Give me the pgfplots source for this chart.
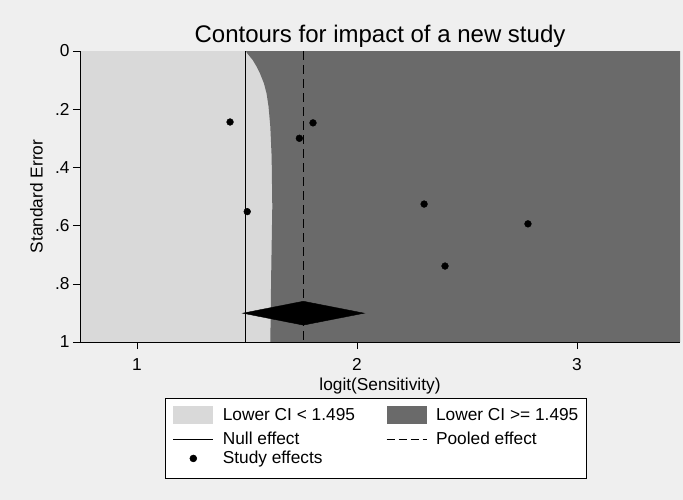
\documentclass[border=0pt]{standalone}
\usepackage{pgfplots}
\pgfplotsset{compat=1.18}
\usepackage{fontspec}
\setmainfont{Liberation Sans}
\definecolor{bg}{RGB}{239,239,239}
\definecolor{lightc}{RGB}{217,217,217}
\definecolor{darkc}{RGB}{106,106,106}
\begin{document}
\begin{tikzpicture}[x=1pt,y=1pt]
\fill[bg] (-80,-158) rectangle (603,342);
\begin{axis}[
  at={(0,0)}, anchor=south west,
  scale only axis, width=600pt, height=291pt,
  xmin=0.741, xmax=3.468, ymin=0, ymax=1, y dir=reverse,
  axis on top,
  axis x line*=bottom, axis y line*=left,
  axis line style={-, black, line width=0.9pt},
  xtick={1,2,3}, xticklabels={1,2,3},
  ytick={0,0.2,0.4,0.6,0.8,1}, yticklabels={0,.2,.4,.6,.8,1},
  tick align=outside, major tick length=7pt,
  tick style={black, line width=0.6pt},
  /pgf/number format/assume math mode=true,
  ticklabel style={font=\fontsize{17.3}{20}\selectfont},
  xticklabel style={yshift=-6pt},
  xlabel={logit(Sensitivity)},
  ylabel={Standard Error},
  every axis x label/.style={at={(axis description cs:0.5,-0.165)}, anchor=base, font=\fontsize{17.3}{20}\selectfont},
  every axis y label/.style={at={(axis description cs:-0.0622,0.5)}, rotate=90, anchor=base, font=\fontsize{17.3}{20}\selectfont},
  title={Contours for impact of a new study},
  every axis title/.style={at={(axis description cs:0.5,1)}, anchor=base, yshift=9pt, font=\fontsize{24}{28}\selectfont},
  legend columns=2,
  legend cell align=left,
  legend style={at={(axis description cs:0.1417,-0.1924)}, anchor=north west,
    draw=black, line width=0.6pt, fill=white,
    font=\fontsize{17.3}{20}\selectfont, inner sep=7.5pt, row sep=5pt,
    nodes={inner sep=0pt},
    /tikz/every odd column/.style={column sep=9pt},
    /tikz/every even column/.style={column sep=31pt}},
]
\addplot[fill=lightc, draw=none,
  legend image code/.code={\fill[lightc] (0pt,-9.3pt) rectangle (40pt,9.3pt); \path (0pt,-12.3pt);}]
  coordinates {(0.741,0) (3.468,0) (3.468,1) (0.741,1)} -- cycle;
\addlegendentry{Lower CI < 1.495}
\addplot[fill=darkc, draw=none,
  legend image code/.code={\fill[darkc] (0pt,-9.3pt) rectangle (40pt,9.3pt); \path (0pt,-12.3pt);}]
  coordinates {(1.495,0) (1.501,0.008) (1.526,0.031) (1.544,0.054) (1.559,0.077)
   (1.577,0.111) (1.589,0.146) (1.598,0.191) (1.606,0.26) (1.612,0.363)
   (1.615,0.535) (1.610,0.764) (1.606,1) (3.468,1) (3.468,0)} -- cycle;
\addlegendentry{Lower CI >= 1.495}
\addplot[black, line width=1pt,
  legend image code/.code={\draw[black, line width=1pt] (0pt,0pt) -- (40pt,0pt);}]
  coordinates {(1.495,0) (1.495,1)};
\addlegendentry{Null effect}
\addplot[black, line width=1pt, dash pattern=on 9pt off 5pt,
  legend image code/.code={\draw[black, line width=1pt, dash pattern=on 8pt off 4pt] (0pt,0pt) -- (40pt,0pt);}]
  coordinates {(1.755,0) (1.755,1)};
\addlegendentry{Pooled effect}
\addplot[only marks, mark=*, mark size=3.4pt, black,
  legend image code/.code={\fill[black] (20pt,0pt) circle (3.4pt); \path (0pt,-12.5pt);}]
  coordinates {(1.423,0.244) (1.501,0.552) (1.738,0.300) (1.800,0.247)
   (2.305,0.526) (2.400,0.739) (2.777,0.594)};
\addlegendentry{Study effects}
\addplot[fill=black, draw=black, forget plot]
  coordinates {(1.4805,0.901) (1.756,0.860) (2.033,0.901) (1.756,0.942)} -- cycle;
\end{axis}
\end{tikzpicture}
\end{document}
